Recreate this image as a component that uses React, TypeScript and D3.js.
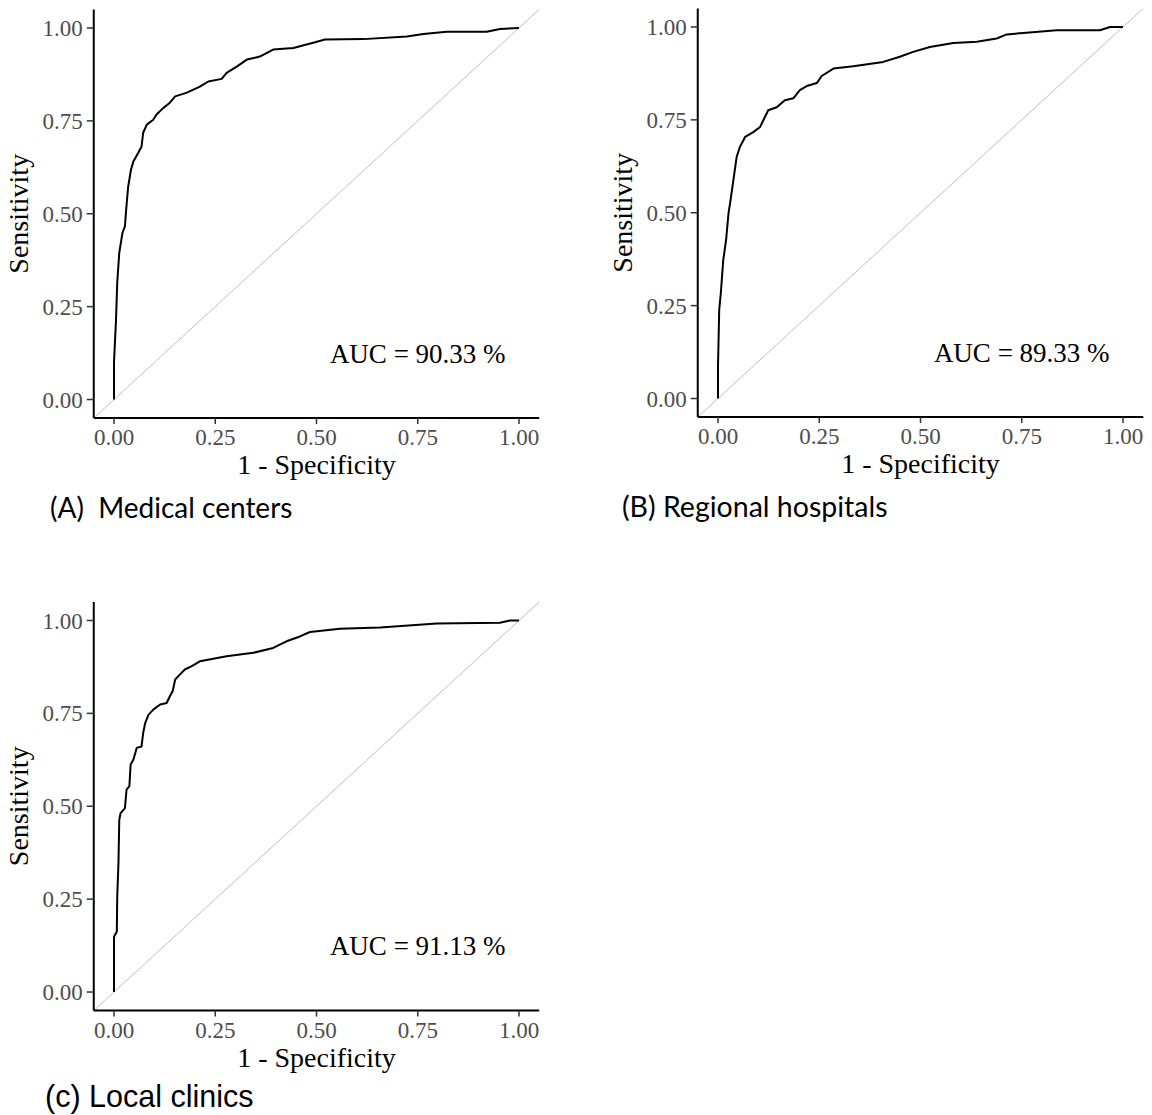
import * as d3 from "d3";
import React from "react";

// ROC points (1 - specificity, sensitivity)
const fprA = [0, 0, 0.005, 0.008, 0.013, 0.021, 0.027, 0.03, 0.035, 0.042, 0.048, 0.06, 0.068, 0.072, 0.081, 0.097, 0.105, 0.122, 0.138, 0.151, 0.18, 0.212, 0.233, 0.266, 0.278, 0.303, 0.328, 0.36, 0.393, 0.443, 0.492, 0.521, 0.616, 0.723, 0.764, 0.821, 0.92, 0.953, 1];
const tprA = [0, 0.1, 0.215, 0.315, 0.395, 0.449, 0.466, 0.511, 0.573, 0.619, 0.641, 0.664, 0.681, 0.718, 0.74, 0.753, 0.767, 0.785, 0.799, 0.816, 0.826, 0.842, 0.856, 0.863, 0.879, 0.896, 0.915, 0.923, 0.942, 0.946, 0.96, 0.969, 0.97, 0.977, 0.984, 0.99, 0.99, 0.997, 1];

const fprB = [0, 0, 0.003, 0.007, 0.013, 0.02, 0.026, 0.031, 0.038, 0.046, 0.054, 0.067, 0.087, 0.104, 0.124, 0.145, 0.165, 0.186, 0.202, 0.219, 0.244, 0.256, 0.285, 0.334, 0.408, 0.449, 0.482, 0.523, 0.581, 0.639, 0.688, 0.713, 0.754, 0.836, 0.943, 0.968, 1];
const tprB = [0, 0.087, 0.239, 0.284, 0.373, 0.427, 0.499, 0.534, 0.588, 0.65, 0.677, 0.704, 0.717, 0.731, 0.776, 0.784, 0.803, 0.808, 0.83, 0.841, 0.849, 0.868, 0.888, 0.894, 0.906, 0.92, 0.933, 0.946, 0.957, 0.96, 0.969, 0.98, 0.984, 0.991, 0.991, 1, 1];

const fprC = [0, 0, 0.007, 0.008, 0.011, 0.013, 0.016, 0.027, 0.031, 0.038, 0.041, 0.048, 0.056, 0.068, 0.072, 0.077, 0.085, 0.097, 0.114, 0.13, 0.138, 0.145, 0.151, 0.163, 0.175, 0.192, 0.212, 0.245, 0.278, 0.344, 0.393, 0.426, 0.459, 0.484, 0.558, 0.657, 0.797, 0.953, 0.978, 1];
const tprC = [0, 0.149, 0.163, 0.257, 0.347, 0.463, 0.481, 0.495, 0.545, 0.554, 0.612, 0.626, 0.657, 0.661, 0.697, 0.724, 0.746, 0.76, 0.774, 0.778, 0.796, 0.81, 0.841, 0.855, 0.868, 0.877, 0.89, 0.897, 0.904, 0.913, 0.926, 0.944, 0.957, 0.969, 0.978, 0.981, 0.992, 0.994, 1, 1];

const tickValues = [0, 0.25, 0.5, 0.75, 1];
const aucLabels = ["AUC = 90.33 %", "AUC = 89.33 %", "AUC = 91.13 %"];
const captions = ["(A)  Medical centers", "(B) Regional hospitals", "(c) Local clinics"];

const serif = "'Liberation Serif', 'Times New Roman', serif";
const fmt = d3.format(".2f");

const Panel = ({ dx, dy, fpr, tpr, auc }) => {
  const x = d3.scaleLinear().domain([-0.05, 1.05]).range([dx + 93.75, dx + 539.25]);
  const y = d3.scaleLinear().domain([-0.05, 1.05]).range([dy + 418.1, dy + 9.4]);
  const pts = fpr.map((f, i) => [f, tpr[i]]);
  const line = d3.line().x((d) => x(d[0])).y((d) => y(d[1]));
  const left = x(-0.05);
  const bottom = y(-0.05);

  return (
    <g>
      {/* reference diagonal */}
      <line x1={x(-0.05)} y1={y(-0.05)} x2={x(1.05)} y2={y(1.05)} stroke="#bfbfbf" strokeWidth={1} />
      <path d={line(pts)} fill="none" stroke="#000" strokeWidth={2} strokeLinejoin="round" />

      {/* axes */}
      <line x1={left} y1={y(1.05)} x2={left} y2={bottom} stroke="#000" strokeWidth={2} />
      <line x1={left} y1={bottom} x2={x(1.05)} y2={bottom} stroke="#000" strokeWidth={2} />

      {tickValues.map((t) => (
        <g key={"x" + t}>
          <line x1={x(t)} x2={x(t)} y1={bottom} y2={bottom + 6} stroke="#333" strokeWidth={1.5} />
          <text x={x(t)} y={bottom + 27} textAnchor="middle" fontFamily={serif} fontSize={23} fill="#4d4d4d">
            {fmt(t)}
          </text>
        </g>
      ))}
      {tickValues.map((t) => (
        <g key={"y" + t}>
          <line x1={left - 7} x2={left} y1={y(t)} y2={y(t)} stroke="#333" strokeWidth={1.5} />
          <text x={left - 11} y={y(t)} dy="0.35em" textAnchor="end" fontFamily={serif} fontSize={23} fill="#4d4d4d">
            {fmt(t)}
          </text>
        </g>
      ))}

      <text x={x(0.5)} y={bottom + 56} textAnchor="middle" fontFamily={serif} fontSize={28} fill="#000">
        1 - Specificity
      </text>
      <text
        transform={`translate(${dx + 28}, ${y(0.5)}) rotate(-90)`}
        textAnchor="middle"
        fontFamily={serif}
        fontSize={28}
        fill="#000"
      >
        Sensitivity
      </text>

      <text x={x(0.75)} y={y(0.125)} dy="0.35em" textAnchor="middle" fontFamily={serif} fontSize={27} fill="#000">
        {auc}
      </text>
    </g>
  );
};

export default function App() {
  return (
    <svg
      width={1152}
      height={1115}
      style={{ position: "absolute", left: 0, top: 0, background: "#fff" }}
    >
      <rect width={1152} height={1115} fill="#fff" />
      <Panel dx={0} dy={0} fpr={fprA} tpr={tprA} auc={aucLabels[0]} />
      <Panel dx={604} dy={-1} fpr={fprB} tpr={tprB} auc={aucLabels[1]} />
      <Panel dx={0} dy={592.5} fpr={fprC} tpr={tprC} auc={aucLabels[2]} />

      <text x={50} y={518} fontFamily="Lato, 'Open Sans', sans-serif" fontSize={28} fill="#000" style={{ whiteSpace: "pre" }}>
        {captions[0]}
      </text>
      <text x={622} y={517} fontFamily="Lato, 'Open Sans', sans-serif" fontSize={28.5} fill="#000">
        {captions[1]}
      </text>
      <text x={45} y={1107} fontFamily="'Liberation Sans', Arial, sans-serif" fontSize={30.5} fill="#000">
        {captions[2]}
      </text>
    </svg>
  );
}
